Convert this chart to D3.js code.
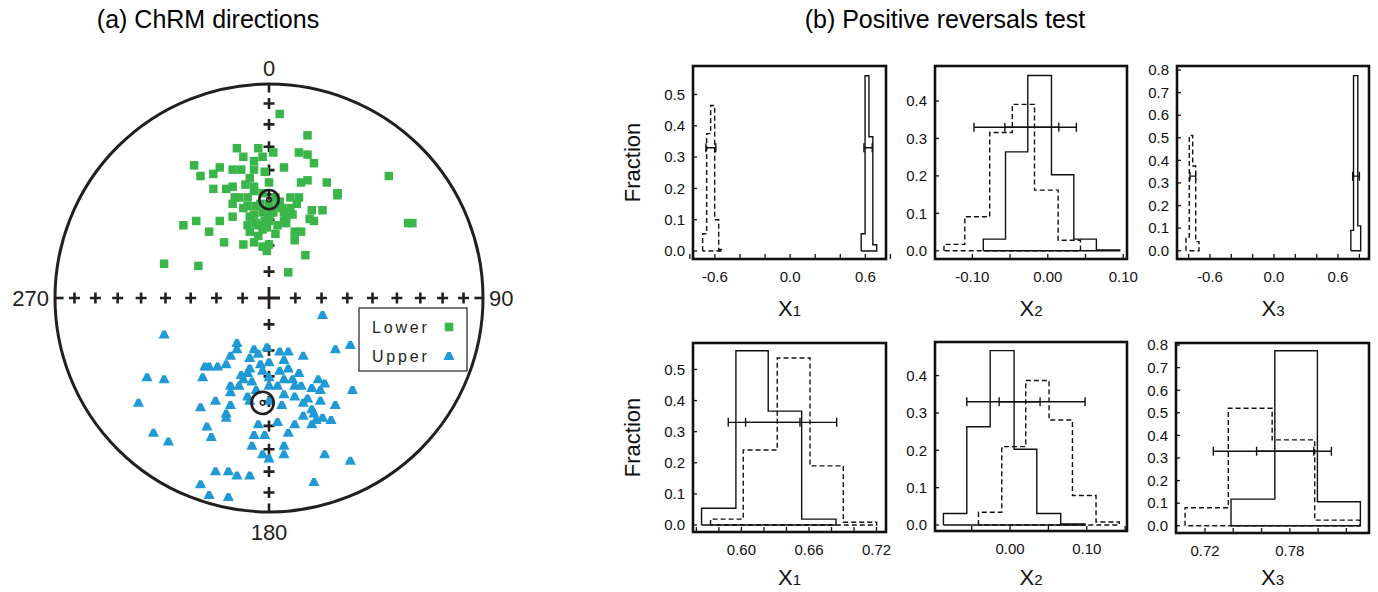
<!DOCTYPE html>
<html>
<head>
<meta charset="utf-8">
<script src="https://cdn.jsdelivr.net/npm/d3@7"></script>
<style>
body { margin: 0; background: #fff; }
svg { display: block; font-family: Arial, "Liberation Sans", sans-serif; }
</style>
</head>
<body>
<div id="chart"></div>
<script>
// ChRM directions, equal-area coordinates (east, north), primitive circle = 1
const lowerPoints = [
  [0.05,0.86],[0.18,0.76],[-0.15,0.70],[-0.05,0.70],[0.02,0.68],[0.14,0.68],[0.18,0.67],[-0.12,0.66],[-0.07,0.64],[-0.03,0.66],
  [-0.35,0.62],[-0.23,0.61],[-0.17,0.60],[-0.13,0.60],[0.07,0.61],[0.21,0.63],[-0.32,0.57],[-0.26,0.58],[-0.02,0.59],[-0.09,0.56],
  [0.56,0.57],[0.15,0.54],[0.18,0.55],[0.27,0.54],[-0.26,0.51],[-0.20,0.51],[-0.17,0.52],[-0.11,0.53],[-0.07,0.52],[0.00,0.54],
  [-0.16,0.47],[-0.10,0.47],[0.32,0.48],[0.32,0.49],[0.10,0.47],[0.14,0.47],[-0.17,0.44],[-0.10,0.43],[-0.06,0.43],[0.05,0.45],
  [0.13,0.44],[-0.12,0.42],[0.20,0.41],[0.25,0.41],[-0.17,0.38],[-0.07,0.39],[-0.03,0.40],[0.01,0.40],[0.07,0.40],[0.11,0.39],
  [0.19,0.37],[0.21,0.36],[0.65,0.35],[0.67,0.35],[-0.40,0.34],[-0.34,0.36],[-0.23,0.36],[-0.28,0.31],[-0.10,0.34],[-0.06,0.35],
  [0.00,0.36],[0.04,0.34],[0.08,0.35],[-0.09,0.31],[-0.03,0.32],[0.12,0.31],[0.15,0.31],[0.12,0.27],[-0.21,0.26],[-0.12,0.25],
  [-0.07,0.26],[-0.03,0.24],[0.00,0.25],[-0.01,0.22],[0.17,0.20],[-0.49,0.16],[-0.33,0.15],[0.09,0.12],[-0.04,0.44],[0.00,0.44],
  [-0.03,0.49],[-0.07,0.50],[0.04,0.43],[0.07,0.36],[-0.05,0.29],[0.00,0.38],[-0.09,0.38],[0.10,0.42],[-0.14,0.47],[-0.07,0.60],
  [0.03,0.47],[0.06,0.42],[-0.02,0.36],[0.03,0.30],[-0.05,0.34],[0.08,0.38],[0.02,0.40],[-0.01,0.33]
];
const upperPoints = [
  [0.25,-0.08],[-0.49,-0.17],[-0.15,-0.21],[-0.15,-0.24],[-0.07,-0.24],[-0.01,-0.23],[0.05,-0.25],[0.09,-0.25],[0.16,-0.27],[0.31,-0.24],
  [0.38,-0.22],[-0.18,-0.27],[-0.09,-0.28],[-0.05,-0.26],[0.07,-0.29],[-0.20,-0.31],[-0.04,-0.31],[0.00,-0.30],[-0.30,-0.32],[-0.28,-0.32],
  [-0.24,-0.32],[-0.09,-0.33],[-0.10,-0.35],[-0.03,-0.34],[0.05,-0.34],[0.09,-0.33],[0.14,-0.35],[-0.31,-0.37],[-0.57,-0.37],[-0.49,-0.38],
  [-0.12,-0.38],[-0.08,-0.39],[0.00,-0.37],[0.07,-0.38],[0.11,-0.38],[0.15,-0.41],[0.23,-0.38],[0.26,-0.40],[-0.18,-0.41],[-0.14,-0.41],
  [-0.06,-0.43],[0.00,-0.41],[0.04,-0.41],[0.12,-0.41],[0.20,-0.42],[0.24,-0.43],[0.39,-0.43],[-0.18,-0.44],[-0.10,-0.46],[0.07,-0.45],
  [0.12,-0.46],[0.18,-0.47],[0.24,-0.48],[-0.61,-0.49],[-0.25,-0.48],[-0.18,-0.50],[-0.32,-0.51],[0.06,-0.50],[0.20,-0.52],[0.31,-0.50],
  [-0.20,-0.54],[-0.20,-0.56],[0.16,-0.55],[0.21,-0.54],[0.22,-0.57],[0.25,-0.56],[0.29,-0.57],[-0.29,-0.60],[-0.05,-0.59],[0.04,-0.58],
  [0.12,-0.59],[0.20,-0.59],[-0.54,-0.63],[-0.27,-0.65],[-0.07,-0.64],[-0.02,-0.64],[0.09,-0.63],[-0.47,-0.67],[-0.08,-0.69],[0.07,-0.69],
  [-0.03,-0.73],[0.07,-0.73],[0.00,-0.75],[0.26,-0.73],[0.38,-0.76],[-0.25,-0.81],[-0.19,-0.81],[-0.15,-0.83],[-0.09,-0.83],[-0.32,-0.87],
  [0.21,-0.86],[-0.28,-0.92],[-0.19,-0.93],[-0.13,-0.36],[0.16,-0.49],[0.00,-0.48],[-0.09,-0.48]
];
const lowerMean = [0.00, 0.46];
const upperMean = [-0.03, -0.49];
const meanA95 = [0.045, 0.052];
const incTicks = [10, 20, 30, 40, 50, 60, 70, 80];
const dirLabels = ['0', '90', '180', '270'];
const legendNames = ['Lower', 'Upper'];

// bootstrap histograms: bin edges and fractions
const x1TopSolidEdges = [0.567, 0.598, 0.629, 0.660, 0.691];
const x1TopSolidFrac = [0.055, 0.56, 0.365, 0.02];
const x1TopDashEdges = [-0.698, -0.666, -0.634, -0.602, -0.570, -0.540];
const x1TopDashFrac = [0.055, 0.375, 0.465, 0.10, 0.005];
const x1TopCI = [[-0.672, -0.593], [0.589, 0.655]];

const x2TopSolidEdges = [-0.0855, -0.056, -0.0265, 0.0049, 0.0345, 0.0644, 0.0953];
const x2TopSolidFrac = [0.031, 0.264, 0.468, 0.203, 0.031, 0.002];
const x2TopDashEdges = [-0.1376, -0.110, -0.077, -0.047, -0.0176, 0.0137, 0.0433];
const x2TopDashFrac = [0.017, 0.091, 0.316, 0.391, 0.162, 0.028];
const x2TopCI = [[-0.0978, 0.0146], [-0.0569, 0.0379]];

const x3TopSolidEdges = [0.72, 0.745, 0.785, 0.812];
const x3TopSolidFrac = [0.09, 0.775, 0.11];
const x3TopDashEdges = [-0.825, -0.794, -0.762, -0.734, -0.703];
const x3TopDashFrac = [0.06, 0.51, 0.375, 0.04];
const x3TopCI = [[-0.787, -0.734], [0.737, 0.80]];

const x1BotSolidEdges = [0.5646, 0.5951, 0.6238, 0.6535, 0.684];
const x1BotSolidFrac = [0.054, 0.56, 0.366, 0.019];
const x1BotDashEdges = [0.5726, 0.6016, 0.6318, 0.6609, 0.6905, 0.7201];
const x1BotDashFrac = [0.019, 0.241, 0.537, 0.19, 0.009];
const x1BotCI = [[0.5883, 0.652], [0.6037, 0.6846]];

const x2BotSolidEdges = [-0.087, -0.0565, -0.026, 0.0052, 0.0348, 0.066, 0.0978];
const x2BotSolidFrac = [0.031, 0.263, 0.467, 0.203, 0.031, 0.003];
const x2BotDashEdges = [-0.0413, -0.0109, 0.0204, 0.0508, 0.0813, 0.1121, 0.1425];
const x2BotDashFrac = [0.034, 0.21, 0.387, 0.281, 0.079, 0.008];
const x2BotCI = [[-0.0565, 0.0391], [-0.0143, 0.0978]];

const x3BotSolidEdges = [0.7384, 0.7694, 0.7995, 0.8299];
const x3BotSolidFrac = [0.118, 0.775, 0.106];
const x3BotDashEdges = [0.7059, 0.7365, 0.7675, 0.7976, 0.8294];
const x3BotDashFrac = [0.08, 0.52, 0.38, 0.025];
const x3BotCI = [[0.7259, 0.7969], [0.7565, 0.8094]];

const ciLevel = 0.33;

// axis ticks
const wideTicks = [-0.8, -0.6, -0.4, -0.2, 0, 0.2, 0.4, 0.6, 0.8];
const wideLabels = [-0.6, 0, 0.6];
const x2TopTicks = [-0.15, -0.10, -0.05, 0, 0.05, 0.10];
const x2TopLabels = [-0.10, 0, 0.10];
const x1BotTicks = [0.56, 0.58, 0.60, 0.62, 0.64, 0.66, 0.68, 0.70, 0.72];
const x1BotLabels = [0.60, 0.66, 0.72];
const x2BotTicks = [-0.05, 0, 0.05, 0.10, 0.15];
const x2BotLabels = [0, 0.10];
const x3BotTicks = [0.72, 0.74, 0.76, 0.78, 0.80, 0.82];
const x3BotLabels = [0.72, 0.78];
const yTicks4 = [0, 0.1, 0.2, 0.3, 0.4];
const yTicks5 = [0, 0.1, 0.2, 0.3, 0.4, 0.5];
const yTicks8 = [0, 0.1, 0.2, 0.3, 0.4, 0.5, 0.6, 0.7, 0.8];

const W = 1378, H = 592;
const green = '#3ab54a', blue = '#1f9ad6';

const svg = d3.select('#chart').append('svg')
    .attr('width', W)
    .attr('height', H);

// ---------- titles ----------
svg.append('text').attr('x', 208).attr('y', 28).attr('text-anchor', 'middle')
    .attr('font-size', 25).text('(a) ChRM directions');
svg.append('text').attr('x', 945).attr('y', 28).attr('text-anchor', 'middle')
    .attr('font-size', 25).text('(b) Positive reversals test');

// ---------- stereonet ----------
const cx = 269, cy = 298, R = 214;
const sx = d3.scaleLinear().domain([-1, 1]).range([cx - R, cx + R]);
const sy = d3.scaleLinear().domain([-1, 1]).range([cy + R, cy - R]);
const eqArea = inc => Math.SQRT2 * Math.sin((90 - inc) / 2 * Math.PI / 180);

const net = svg.append('g');
net.append('circle').attr('cx', sx(0)).attr('cy', sy(0)).attr('r', R)
    .attr('fill', 'none').attr('stroke', '#231f20').attr('stroke-width', 3);

const crossArm = 5.5;
const dirs = [[0, 1], [1, 0], [0, -1], [-1, 0]];
dirs.forEach(([dx, dy]) => {
    incTicks.forEach(inc => {
        const r = eqArea(inc);
        const px = sx(dx * r), py = sy(dy * r);
        net.append('path')
            .attr('d', `M${px - crossArm},${py}H${px + crossArm}M${px},${py - crossArm}V${py + crossArm}`)
            .attr('stroke', '#231f20').attr('stroke-width', 2.6);
    });
    // tick on the primitive
    net.append('line')
        .attr('x1', sx(dx)).attr('y1', sy(dy))
        .attr('x2', sx(dx * 0.96)).attr('y2', sy(dy * 0.96))
        .attr('stroke', '#231f20').attr('stroke-width', 2.6);
});
net.append('path')
    .attr('d', `M${sx(0) - 11},${sy(0)}H${sx(0) + 11}M${sx(0)},${sy(0) - 11}V${sy(0) + 11}`)
    .attr('stroke', '#231f20').attr('stroke-width', 2.8);

const sq = 8.5;
net.append('g').selectAll('rect').data(lowerPoints).enter().append('rect')
    .attr('x', d => sx(d[0]) - sq / 2)
    .attr('y', d => sy(d[1]) - sq / 2)
    .attr('width', sq).attr('height', sq)
    .attr('fill', green);

const tri = 'M-5.5,4L5.5,4L1.6,-4L-1.6,-4Z';
net.append('g').selectAll('path').data(upperPoints).enter().append('path')
    .attr('transform', d => `translate(${sx(d[0])},${sy(d[1])})`)
    .attr('d', tri)
    .attr('fill', blue);

[lowerMean, upperMean].forEach((m, i) => {
    net.append('circle').attr('cx', sx(m[0])).attr('cy', sy(m[1]))
        .attr('r', sx(meanA95[i]) - sx(0))
        .attr('fill', 'none').attr('stroke', '#231f20').attr('stroke-width', 2.6);
    net.append('circle').attr('cx', sx(m[0])).attr('cy', sy(m[1]))
        .attr('r', 2.3)
        .attr('fill', 'none').attr('stroke', '#231f20').attr('stroke-width', 1.5);
});

// direction labels
const dirFont = 22;
net.append('text').attr('x', sx(0)).attr('y', sy(1) - 8).attr('text-anchor', 'middle')
    .attr('font-size', dirFont).attr('fill', '#231f20').text(dirLabels[0]);
net.append('text').attr('x', sx(1) + 6).attr('y', sy(0) + 8).attr('text-anchor', 'start')
    .attr('font-size', dirFont).attr('fill', '#231f20').text(dirLabels[1]);
net.append('text').attr('x', sx(0)).attr('y', sy(-1) + 28).attr('text-anchor', 'middle')
    .attr('font-size', dirFont).attr('fill', '#231f20').text(dirLabels[2]);
net.append('text').attr('x', sx(-1) - 6).attr('y', sy(0) + 8).attr('text-anchor', 'end')
    .attr('font-size', dirFont).attr('fill', '#231f20').text(dirLabels[3]);

// legend
const leg = net.append('g').attr('transform', 'translate(359,308)');
leg.append('rect').attr('width', 108).attr('height', 63)
    .attr('fill', '#fff').attr('stroke', '#231f20').attr('stroke-width', 1.2);
legendNames.forEach((name, i) => {
    const ly = 19 + i * 29;
    leg.append('text').attr('x', 13).attr('y', ly + 6)
        .attr('font-size', 16).attr('letter-spacing', 2.8).attr('fill', '#231f20').text(name);
    if (i === 0) {
        leg.append('rect').attr('x', 90 - sq / 2).attr('y', ly - sq / 2)
            .attr('width', sq).attr('height', sq).attr('fill', green);
    } else {
        leg.append('path').attr('transform', `translate(90,${ly})`).attr('d', tri).attr('fill', blue);
    }
});

// ---------- histogram panels ----------
const panels = [
    { x0: 693, y0: 66, w: 193, h: 193, xd: [-0.775, 0.765], yd: [-0.0255, 0.591],
      xt: wideTicks, xl: wideLabels, xf: '.1f', yt: yTicks5,
      solid: [x1TopSolidEdges, x1TopSolidFrac], dash: [x1TopDashEdges, x1TopDashFrac], ci: x1TopCI,
      sub: '1', fraction: true, titleGap: 57 },
    { x0: 935, y0: 66, w: 192, h: 193, xd: [-0.1495, 0.105], yd: [-0.022, 0.4935],
      xt: x2TopTicks, xl: x2TopLabels, xf: '.2f', yt: yTicks4,
      solid: [x2TopSolidEdges, x2TopSolidFrac], dash: [x2TopDashEdges, x2TopDashFrac], ci: x2TopCI,
      sub: '2', fraction: false, titleGap: 57 },
    { x0: 1177, y0: 66, w: 192, h: 193, xd: [-0.909, 0.89], yd: [-0.0367, 0.8177],
      xt: wideTicks, xl: wideLabels, xf: '.1f', yt: yTicks8,
      solid: [x3TopSolidEdges, x3TopSolidFrac], dash: [x3TopDashEdges, x3TopDashFrac], ci: x3TopCI,
      sub: '3', fraction: false, titleGap: 57 },
    { x0: 693, y0: 343, w: 193, h: 189, xd: [0.557, 0.7284], yd: [-0.0225, 0.585],
      xt: x1BotTicks, xl: x1BotLabels, xf: '.2f', yt: yTicks5,
      solid: [x1BotSolidEdges, x1BotSolidFrac], dash: [x1BotDashEdges, x1BotDashFrac], ci: x1BotCI,
      sub: '1', fraction: true, titleGap: 53 },
    { x0: 935, y0: 342, w: 192, h: 189, xd: [-0.098, 0.1525], yd: [-0.016, 0.49],
      xt: x2BotTicks, xl: x2BotLabels, xf: '.2f', yt: yTicks4,
      solid: [x2BotSolidEdges, x2BotSolidFrac], dash: [x2BotDashEdges, x2BotDashFrac], ci: x2BotCI,
      sub: '2', fraction: false, titleGap: 54 },
    { x0: 1176, y0: 343, w: 193, h: 190, xd: [0.6995, 0.836], yd: [-0.032, 0.809],
      xt: x3BotTicks, xl: x3BotLabels, xf: '.2f', yt: yTicks8,
      solid: [x3BotSolidEdges, x3BotSolidFrac], dash: [x3BotDashEdges, x3BotDashFrac], ci: x3BotCI,
      sub: '3', fraction: false, titleGap: 52 }
];

function stepPoints(edges, frac) {
    const pts = [[edges[0], 0]];
    frac.forEach((f, i) => {
        pts.push([edges[i], f]);
        pts.push([edges[i + 1], f]);
    });
    pts.push([edges[edges.length - 1], 0]);
    pts.push([edges[0], 0]);
    return pts;
}

function fmt(spec) {
    const f = d3.format(spec);
    return d => f(d).replace('\u2212', '-');
}

panels.forEach(p => {
    const x = d3.scaleLinear().domain(p.xd).range([p.x0, p.x0 + p.w]);
    const y = d3.scaleLinear().domain(p.yd).range([p.y0 + p.h, p.y0]);
    const g = svg.append('g');
    const line = d3.line().x(d => x(d[0])).y(d => y(d[1]));

    g.append('path').attr('d', line(stepPoints(p.dash[0], p.dash[1])))
        .attr('fill', 'none').attr('stroke', '#111').attr('stroke-width', 1.4)
        .attr('stroke-dasharray', '5,3');
    g.append('path').attr('d', line(stepPoints(p.solid[0], p.solid[1])))
        .attr('fill', 'none').attr('stroke', '#111').attr('stroke-width', 1.4);

    // confidence bounds
    p.ci.forEach(([a, b]) => {
        const yy = y(ciLevel);
        g.append('path')
            .attr('d', `M${x(a)},${yy}H${x(b)}M${x(a)},${yy - 4.5}V${yy + 4.5}M${x(b)},${yy - 4.5}V${yy + 4.5}`)
            .attr('fill', 'none').attr('stroke', '#111').attr('stroke-width', 1.4);
    });

    // ticks
    const xb = p.y0 + p.h;
    g.selectAll('.xt').data(p.xt).enter().append('line')
        .attr('x1', d => x(d)).attr('x2', d => x(d))
        .attr('y1', xb).attr('y2', xb - 5)
        .attr('stroke', '#111').attr('stroke-width', 1.3);
    g.selectAll('.yt').data(p.yt).enter().append('line')
        .attr('x1', p.x0).attr('x2', p.x0 + 4)
        .attr('y1', d => y(d)).attr('y2', d => y(d))
        .attr('stroke', '#111').attr('stroke-width', 1.3);

    const xfmt = fmt(p.xf), yfmt = fmt('.1f');
    g.selectAll('.xl').data(p.xl).enter().append('text')
        .attr('x', d => x(d)).attr('y', xb + 22.5)
        .attr('text-anchor', 'middle').attr('font-size', 15).attr('fill', '#111')
        .text(xfmt);
    g.selectAll('.yl').data(p.yt).enter().append('text')
        .attr('x', p.x0 - 8).attr('y', d => y(d) + 5.3)
        .attr('text-anchor', 'end').attr('font-size', 15).attr('fill', '#111')
        .text(yfmt);

    g.append('rect').attr('x', p.x0).attr('y', p.y0).attr('width', p.w).attr('height', p.h)
        .attr('fill', 'none').attr('stroke', '#111').attr('stroke-width', 2.6);

    // axis titles
    const t = g.append('text').attr('x', p.x0 + p.w / 2).attr('y', xb + p.titleGap)
        .attr('text-anchor', 'middle').attr('font-size', 22).attr('fill', '#111');
    t.append('tspan').text('X');
    t.append('tspan').attr('font-size', 15).text(p.sub);
    if (p.fraction) {
        g.append('text')
            .attr('transform', `translate(${p.x0 - 53},${p.y0 + p.h / 2}) rotate(-90)`)
            .attr('text-anchor', 'middle').attr('font-size', 22).attr('fill', '#111')
            .text('Fraction');
    }
});
</script>
</body>
</html>
